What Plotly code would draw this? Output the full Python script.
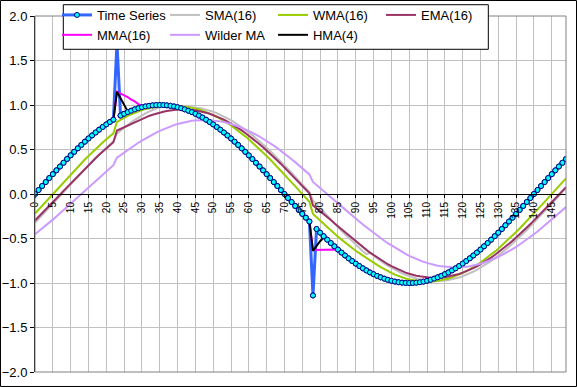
import plotly.graph_objects as go

index = list(range(150))

tick_values = [0, 5, 10, 15, 20, 25, 30, 35, 40, 45, 50, 55, 60, 65, 70,
               75, 80, 85, 90, 95, 100, 105, 110, 115, 120, 125, 130, 135, 140, 145]
tick_labels = ["0", "5", "10", "15", "20", "25", "30", "35", "40", "45", "50", "55", "60", "65", "70",
               "75", "80", "85", "90", "95", "100", "105", "110", "115", "120", "125", "130", "135", "140", "145"]

time_series = [
    0.000, 0.045, 0.090, 0.134, 0.179, 0.223, 0.266, 0.309, 0.351, 0.393,
    0.434, 0.474, 0.513, 0.551, 0.588, 0.624, 0.658, 0.691, 0.723, 0.753,
    0.782, 0.809, 0.835, 1.700, 0.881, 0.901, 0.920, 0.936, 0.951, 0.964,
    0.975, 0.984, 0.991, 0.996, 0.999, 1.000, 0.999, 0.996, 0.991, 0.984,
    0.975, 0.964, 0.951, 0.936, 0.920, 0.901, 0.881, 0.859, 0.835, 0.809,
    0.782, 0.753, 0.723, 0.691, 0.658, 0.624, 0.588, 0.551, 0.513, 0.474,
    0.434, 0.393, 0.351, 0.309, 0.266, 0.223, 0.179, 0.134, 0.090, 0.045,
    0.000, -0.045, -0.090, -0.134, -0.179, -0.223, -0.266, -0.309, -1.140, -0.393,
    -0.434, -0.474, -0.513, -0.551, -0.588, -0.624, -0.658, -0.691, -0.723, -0.753,
    -0.782, -0.809, -0.835, -0.859, -0.881, -0.901, -0.920, -0.936, -0.951, -0.964,
    -0.975, -0.984, -0.991, -0.996, -0.999, -1.000, -0.999, -0.996, -0.991, -0.984,
    -0.975, -0.964, -0.951, -0.936, -0.920, -0.901, -0.881, -0.859, -0.835, -0.809,
    -0.782, -0.753, -0.723, -0.691, -0.658, -0.624, -0.588, -0.551, -0.513, -0.474,
    -0.434, -0.393, -0.351, -0.309, -0.266, -0.223, -0.179, -0.134, -0.090, -0.045,
    0.000, 0.045, 0.090, 0.134, 0.179, 0.223, 0.266, 0.309, 0.351, 0.393]

sma16 = [
    -0.323, -0.282, -0.239, -0.196, -0.153, -0.110, -0.066, -0.022, 0.022, 0.066,
    0.110, 0.153, 0.196, 0.239, 0.282, 0.323, 0.364, 0.405, 0.444, 0.483,
    0.521, 0.557, 0.593, 0.680, 0.713, 0.745, 0.776, 0.805, 0.832, 0.858,
    0.882, 0.905, 0.925, 0.944, 0.962, 0.977, 0.991, 1.002, 1.012, 0.967,
    0.973, 0.977, 0.979, 0.979, 0.977, 0.973, 0.967, 0.959, 0.949, 0.938,
    0.924, 0.909, 0.891, 0.872, 0.852, 0.829, 0.805, 0.779, 0.752, 0.723,
    0.692, 0.660, 0.627, 0.593, 0.557, 0.521, 0.483, 0.444, 0.405, 0.364,
    0.323, 0.282, 0.239, 0.196, 0.153, 0.110, 0.066, 0.022, -0.071, -0.115,
    -0.159, -0.202, -0.245, -0.288, -0.331, -0.372, -0.413, -0.454, -0.493, -0.532,
    -0.570, -0.606, -0.642, -0.676, -0.660, -0.692, -0.723, -0.752, -0.779, -0.805,
    -0.829, -0.852, -0.872, -0.891, -0.909, -0.924, -0.938, -0.949, -0.959, -0.967,
    -0.973, -0.977, -0.979, -0.979, -0.977, -0.973, -0.967, -0.959, -0.949, -0.938,
    -0.924, -0.909, -0.891, -0.872, -0.852, -0.829, -0.805, -0.779, -0.752, -0.723,
    -0.692, -0.660, -0.627, -0.593, -0.557, -0.521, -0.483, -0.444, -0.405, -0.364,
    -0.323, -0.282, -0.239, -0.196, -0.153, -0.110, -0.066, -0.022, 0.022, 0.066]

wma16 = [
    -0.220, -0.176, -0.132, -0.088, -0.044, 0.000, 0.044, 0.088, 0.132, 0.176,
    0.220, 0.262, 0.304, 0.346, 0.387, 0.427, 0.467, 0.505, 0.543, 0.579,
    0.615, 0.648, 0.681, 0.811, 0.835, 0.856, 0.877, 0.896, 0.914, 0.930,
    0.943, 0.955, 0.965, 0.974, 0.981, 0.985, 0.988, 0.988, 0.987, 0.984,
    0.985, 0.984, 0.981, 0.976, 0.969, 0.960, 0.950, 0.937, 0.922, 0.906,
    0.887, 0.868, 0.846, 0.822, 0.797, 0.770, 0.742, 0.712, 0.681, 0.648,
    0.615, 0.579, 0.543, 0.505, 0.467, 0.427, 0.387, 0.346, 0.304, 0.262,
    0.220, 0.176, 0.132, 0.088, 0.044, 0.000, -0.044, -0.088, -0.225, -0.263,
    -0.301, -0.338, -0.374, -0.410, -0.445, -0.479, -0.513, -0.546, -0.578, -0.608,
    -0.638, -0.665, -0.693, -0.718, -0.742, -0.770, -0.797, -0.822, -0.846, -0.868,
    -0.887, -0.906, -0.922, -0.937, -0.950, -0.960, -0.969, -0.976, -0.981, -0.984,
    -0.985, -0.984, -0.981, -0.976, -0.969, -0.960, -0.950, -0.937, -0.922, -0.906,
    -0.887, -0.868, -0.846, -0.822, -0.797, -0.770, -0.742, -0.712, -0.681, -0.648,
    -0.615, -0.579, -0.543, -0.505, -0.467, -0.427, -0.387, -0.346, -0.304, -0.262,
    -0.220, -0.176, -0.132, -0.088, -0.044, 0.000, 0.044, 0.088, 0.132, 0.176]

ema16 = [
    -0.298, -0.258, -0.217, -0.176, -0.134, -0.092, -0.050, -0.008, 0.035, 0.077,
    0.119, 0.161, 0.203, 0.243, 0.284, 0.323, 0.363, 0.402, 0.440, 0.476,
    0.512, 0.547, 0.581, 0.713, 0.732, 0.752, 0.772, 0.791, 0.810, 0.829,
    0.846, 0.862, 0.877, 0.891, 0.904, 0.915, 0.925, 0.933, 0.940, 0.945,
    0.949, 0.950, 0.950, 0.949, 0.945, 0.940, 0.934, 0.925, 0.914, 0.902,
    0.887, 0.872, 0.855, 0.835, 0.813, 0.790, 0.766, 0.741, 0.714, 0.686,
    0.656, 0.625, 0.593, 0.560, 0.525, 0.490, 0.453, 0.415, 0.377, 0.338,
    0.298, 0.258, 0.217, 0.176, 0.134, 0.092, 0.050, 0.008, -0.128, -0.159,
    -0.191, -0.225, -0.259, -0.293, -0.328, -0.362, -0.397, -0.432, -0.467, -0.499,
    -0.533, -0.565, -0.597, -0.628, -0.658, -0.686, -0.714, -0.740, -0.765, -0.789,
    -0.811, -0.831, -0.850, -0.867, -0.883, -0.896, -0.909, -0.918, -0.925, -0.932,
    -0.937, -0.940, -0.941, -0.941, -0.938, -0.934, -0.928, -0.920, -0.910, -0.898,
    -0.884, -0.869, -0.852, -0.833, -0.813, -0.790, -0.766, -0.741, -0.714, -0.686,
    -0.656, -0.625, -0.593, -0.560, -0.525, -0.490, -0.453, -0.415, -0.377, -0.338,
    -0.298, -0.258, -0.217, -0.176, -0.134, -0.092, -0.050, -0.008, 0.035, 0.077]

mma16 = [
    0.000, 0.045, 0.090, 0.134, 0.179, 0.223, 0.266, 0.309, 0.351, 0.393,
    0.434, 0.474, 0.513, 0.551, 0.588, 0.624, 0.658, 0.691, 0.723, 0.753,
    0.782, 0.809, 0.835, 1.150, 1.130, 1.110, 1.090, 1.060, 1.040, 1.010,
    0.990, 0.984, 0.991, 0.996, 0.999, 1.000, 0.999, 0.996, 0.991, 0.984,
    0.975, 0.964, 0.951, 0.936, 0.920, 0.901, 0.881, 0.859, 0.835, 0.809,
    0.782, 0.753, 0.723, 0.691, 0.658, 0.624, 0.588, 0.551, 0.513, 0.474,
    0.434, 0.393, 0.351, 0.309, 0.266, 0.223, 0.179, 0.134, 0.090, 0.045,
    0.000, -0.045, -0.090, -0.134, -0.179, -0.223, -0.266, -0.309, -0.630, -0.630,
    -0.630, -0.630, -0.630, -0.630, -0.630, -0.624, -0.658, -0.691, -0.723, -0.753,
    -0.782, -0.809, -0.835, -0.859, -0.881, -0.901, -0.920, -0.936, -0.951, -0.964,
    -0.975, -0.984, -0.991, -0.996, -0.999, -1.000, -0.999, -0.996, -0.991, -0.984,
    -0.975, -0.964, -0.951, -0.936, -0.920, -0.901, -0.881, -0.859, -0.835, -0.809,
    -0.782, -0.753, -0.723, -0.691, -0.658, -0.624, -0.588, -0.551, -0.513, -0.474,
    -0.434, -0.393, -0.351, -0.309, -0.266, -0.223, -0.179, -0.134, -0.090, -0.045,
    0.000, 0.045, 0.090, 0.134, 0.179, 0.223, 0.266, 0.309, 0.351, 0.393]

wilder_ma = [
    -0.452, -0.421, -0.389, -0.356, -0.323, -0.288, -0.254, -0.218, -0.183, -0.147,
    -0.110, -0.074, -0.037, 0.000, 0.037, 0.074, 0.110, 0.147, 0.183, 0.218,
    0.254, 0.288, 0.323, 0.409, 0.438, 0.467, 0.495, 0.524, 0.550, 0.576,
    0.600, 0.625, 0.647, 0.670, 0.690, 0.710, 0.728, 0.744, 0.760, 0.774,
    0.786, 0.797, 0.806, 0.814, 0.822, 0.827, 0.830, 0.831, 0.831, 0.830,
    0.827, 0.823, 0.816, 0.808, 0.798, 0.788, 0.774, 0.761, 0.745, 0.728,
    0.710, 0.691, 0.668, 0.646, 0.622, 0.598, 0.570, 0.543, 0.515, 0.486,
    0.455, 0.423, 0.391, 0.358, 0.325, 0.290, 0.256, 0.220, 0.135, 0.102,
    0.068, 0.034, 0.000, -0.035, -0.070, -0.105, -0.139, -0.175, -0.209, -0.242,
    -0.277, -0.309, -0.343, -0.375, -0.407, -0.437, -0.467, -0.497, -0.526, -0.553,
    -0.579, -0.605, -0.628, -0.652, -0.673, -0.695, -0.713, -0.731, -0.747, -0.762,
    -0.774, -0.787, -0.797, -0.805, -0.813, -0.819, -0.822, -0.824, -0.825, -0.824,
    -0.821, -0.817, -0.811, -0.803, -0.794, -0.783, -0.770, -0.757, -0.742, -0.725,
    -0.707, -0.687, -0.665, -0.643, -0.619, -0.595, -0.568, -0.541, -0.513, -0.484,
    -0.453, -0.422, -0.389, -0.356, -0.323, -0.288, -0.254, -0.218, -0.183, -0.147]

hma4 = [
    0.000, 0.045, 0.090, 0.134, 0.179, 0.223, 0.266, 0.309, 0.351, 0.393,
    0.434, 0.474, 0.513, 0.551, 0.588, 0.624, 0.658, 0.691, 0.723, 0.753,
    0.782, 0.809, 0.835, 1.150, 1.080, 1.000, 0.930, 0.936, 0.951, 0.964,
    0.975, 0.984, 0.991, 0.996, 0.999, 1.000, 0.999, 0.996, 0.991, 0.984,
    0.975, 0.964, 0.951, 0.936, 0.920, 0.901, 0.881, 0.859, 0.835, 0.809,
    0.782, 0.753, 0.723, 0.691, 0.658, 0.624, 0.588, 0.551, 0.513, 0.474,
    0.434, 0.393, 0.351, 0.309, 0.266, 0.223, 0.179, 0.134, 0.090, 0.045,
    0.000, -0.045, -0.090, -0.134, -0.179, -0.223, -0.266, -0.309, -0.640, -0.580,
    -0.530, -0.490, -0.513, -0.551, -0.588, -0.624, -0.658, -0.691, -0.723, -0.753,
    -0.782, -0.809, -0.835, -0.859, -0.881, -0.901, -0.920, -0.936, -0.951, -0.964,
    -0.975, -0.984, -0.991, -0.996, -0.999, -1.000, -0.999, -0.996, -0.991, -0.984,
    -0.975, -0.964, -0.951, -0.936, -0.920, -0.901, -0.881, -0.859, -0.835, -0.809,
    -0.782, -0.753, -0.723, -0.691, -0.658, -0.624, -0.588, -0.551, -0.513, -0.474,
    -0.434, -0.393, -0.351, -0.309, -0.266, -0.223, -0.179, -0.134, -0.090, -0.045,
    0.000, 0.045, 0.090, 0.134, 0.179, 0.223, 0.266, 0.309, 0.351, 0.393]

FONT = "Arial, Liberation Sans, sans-serif"
marker_style = dict(size=5, color="#00FFFF", line=dict(color="#000080", width=1))

fig = go.Figure()
fig.add_trace(go.Scatter(x=index, y=time_series, name="Time Series", mode="lines+markers",
                         line=dict(color="#3366FF", width=3), marker=marker_style))
fig.add_trace(go.Scatter(x=index, y=sma16, name="SMA(16)", mode="lines",
                         line=dict(color="#C0C0C0", width=2)))
fig.add_trace(go.Scatter(x=index, y=wma16, name="WMA(16)", mode="lines",
                         line=dict(color="#99CC00", width=2)))
fig.add_trace(go.Scatter(x=index, y=ema16, name="EMA(16)", mode="lines",
                         line=dict(color="#993366", width=2)))
fig.add_trace(go.Scatter(x=index, y=mma16, name="MMA(16)", mode="lines",
                         line=dict(color="#FF00FF", width=2)))
fig.add_trace(go.Scatter(x=index, y=wilder_ma, name="Wilder MA", mode="lines",
                         line=dict(color="#CC99FF", width=2)))
fig.add_trace(go.Scatter(x=index, y=hma4, name="HMA(4)", mode="lines",
                         line=dict(color="#000000", width=2)))
fig.add_trace(go.Scatter(x=index, y=time_series, name="Time Series", mode="markers",
                         marker=marker_style, showlegend=False))

fig.update_layout(
    width=577, height=387,
    margin=dict(l=35, r=11, t=16, b=15, autoexpand=False),
    paper_bgcolor="white", plot_bgcolor="white",
    font=dict(family=FONT, size=13, color="black"),
    showlegend=True,
    legend=dict(orientation="h", x=0.0414, y=1.045, xanchor="left", yanchor="top",
                bgcolor="rgba(0,0,0,0)", borderwidth=0,
                entrywidth=63, entrywidthmode="pixels",
                font=dict(family=FONT, size=13, color="black")),
    xaxis=dict(range=[0, 149], tickmode="array", tickvals=tick_values, ticktext=tick_labels,
               tickangle=-90, anchor="free", position=0.5, automargin=False,
               showline=True, linecolor="black", linewidth=1,
               ticks="outside", ticklen=3, tickcolor="black",
               showgrid=True, gridcolor="#C0C0C0", gridwidth=1, zeroline=False,
               tickfont=dict(family=FONT, size=10, color="black")),
    yaxis=dict(range=[-2, 2], tick0=0, dtick=0.5, tickformat=".1f", automargin=False,
               showline=True, linecolor="black", linewidth=1,
               ticks="outside", ticklen=4, tickcolor="black",
               showgrid=True, gridcolor="#C0C0C0", gridwidth=1,
               zeroline=True, zerolinecolor="black", zerolinewidth=1,
               tickfont=dict(family=FONT, size=13, color="black")),
    shapes=[
        dict(type="rect", xref="paper", yref="paper", x0=0, y0=0, x1=1, y1=1,
             line=dict(color="#808080", width=1), layer="above"),
        dict(type="rect", xref="paper", yref="paper", x0=0.0533, y0=0.9065, x1=0.8537, y1=1.0317,
             line=dict(color="black", width=1), fillcolor="white", layer="above"),
        dict(type="rect", xref="paper", yref="paper", x0=-0.065, y0=-0.0407, x1=1.0198, y1=1.0435,
             line=dict(color="black", width=1), layer="above"),
    ],
)

fig.write_html("out.html", config={"displayModeBar": False},
               post_script="document.body.style.margin='0';")
